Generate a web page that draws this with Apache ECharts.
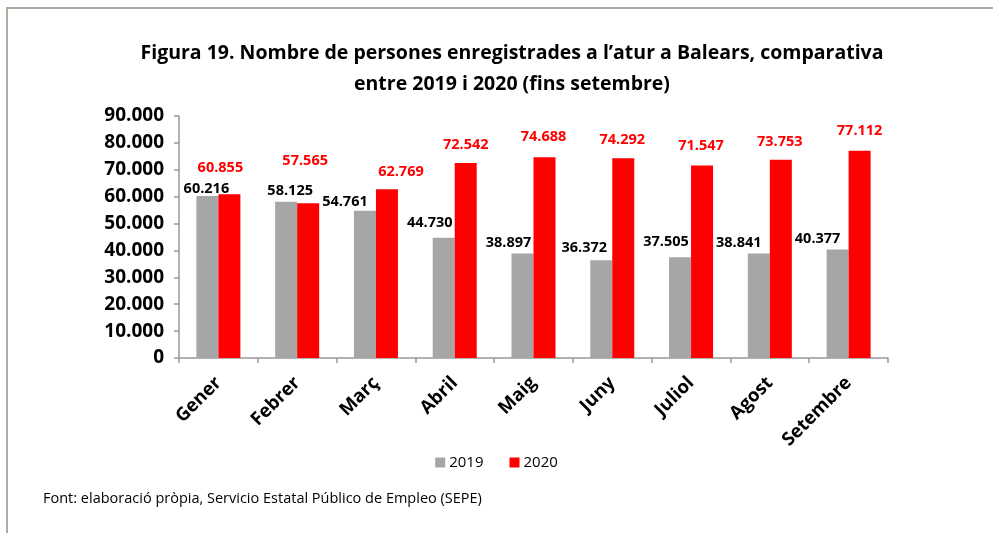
<!DOCTYPE html>
<html>
<head>
<meta charset="utf-8">
<script src="https://cdn.jsdelivr.net/npm/echarts@6/dist/echarts.min.js"></script>
<style>
  html, body { margin: 0; padding: 0; background: #fff; }
  #frame {
    position: absolute; left: 6px; top: 7px; right: 0; bottom: 0;
    border-top: 2px solid #b3aaa2; border-left: 2px solid #b3aaa2;
  }
  #chart { position: absolute; left: 0; top: 0; width: 993px; height: 533px; }
</style>
</head>
<body>
<div id="frame"></div>
<div id="chart"></div>
<script>
const months = ['Gener', 'Febrer', 'Març', 'Abril', 'Maig', 'Juny', 'Juliol', 'Agost', 'Setembre'];
const values2019 = [60216, 58125, 54761, 44730, 38897, 36372, 37505, 38841, 40377];
const values2020 = [60855, 57565, 62769, 72542, 74688, 74292, 71547, 73753, 77112];

const titleText = 'Figura 19. Nombre de persones enregistrades a l’atur a Balears, comparativa\nentre 2019 i 2020 (fins setembre)';
const sourceText = 'Font: elaboració pròpia, Servicio Estatal Público de Empleo (SEPE)';

const FONT = '"Open Sans", Lato, sans-serif';

// spanish-style thousands: 60.216
const fmt = v => String(v).replace(/\B(?=(\d{3})+(?!\d))/g, '.');

// hand placed labels like in the excel original (label centre relative to bar top centre)
const nudge2019 = [[-1, -7], [4, -11], [-20, -9], [-14, -15], [-14, -11], [-17, -12], [-14, -15], [-20, -11], [-20, -11]];
const nudge2020 = [[-9, -26], [-3, -42], [14, -17], [0, -18], [-1, -20], [-1, -18], [-1, -20], [-1, -18], [0, -20]];

const withLabels = (vals, nudge) => vals.map((v, i) => ({
  value: v,
  label: { offset: nudge[i] }
}));

const chart = echarts.init(document.getElementById('chart'));

chart.setOption({
  animation: false,
  backgroundColor: 'transparent',
  title: [
    {
      text: titleText,
      left: 507,
      textAlign: 'center',
      top: 33,
      textStyle: { fontFamily: FONT, fontSize: 19.5, fontWeight: 'bold', color: '#000', lineHeight: 31 }
    },
    {
      text: sourceText,
      left: 38,
      top: 486,
      textStyle: { fontFamily: FONT, fontSize: 14.5, fontWeight: 'normal', color: '#000' }
    }
  ],
  legend: {
    top: 450,
    left: 'center',
    itemWidth: 10,
    itemHeight: 10,
    itemGap: 26,
    icon: 'rect',
    textStyle: { fontFamily: FONT, fontSize: 15, color: '#000', padding: [0, 0, 0, -1] },
    data: ['2019', '2020']
  },
  grid: { left: 179, right: 105, top: 116, bottom: 175 },
  xAxis: {
    type: 'category',
    data: months,
    axisLine: { lineStyle: { color: '#999', width: 1.5 } },
    axisTick: { show: true, length: 5, lineStyle: { color: '#999', width: 1.5 } },
    axisLabel: {
      rotate: 45,
      margin: 22,
      interval: 0,
      fontFamily: FONT,
      fontSize: 18.5,
      fontWeight: 'bold',
      color: '#000'
    }
  },
  yAxis: {
    type: 'value',
    min: 0,
    max: 90000,
    interval: 10000,
    splitLine: { show: false },
    axisLine: { show: true, lineStyle: { color: '#999', width: 1.5 } },
    axisTick: { show: true, length: 5, lineStyle: { color: '#999', width: 1.5 } },
    axisLabel: {
      margin: 15,
      fontFamily: FONT,
      fontSize: 19,
      fontWeight: 'bold',
      color: '#000',
      formatter: fmt
    }
  },
  series: [
    {
      name: '2019',
      type: 'bar',
      barWidth: 22,
      barGap: 0,
      itemStyle: { color: '#a6a6a6' },
      label: {
        show: true,
        position: 'top',
        distance: 0,
        verticalAlign: 'middle',
        fontFamily: FONT,
        fontSize: 14.5,
        fontWeight: 'bold',
        color: '#000',
        formatter: p => fmt(p.value)
      },
      data: withLabels(values2019, nudge2019)
    },
    {
      name: '2020',
      type: 'bar',
      barWidth: 22,
      barGap: 0,
      itemStyle: { color: '#ff0000' },
      label: {
        show: true,
        position: 'top',
        distance: 0,
        verticalAlign: 'middle',
        fontFamily: FONT,
        fontSize: 14.5,
        fontWeight: 'bold',
        color: '#ff0000',
        formatter: p => fmt(p.value)
      },
      data: withLabels(values2020, nudge2020)
    }
  ]
});
</script>
</body>
</html>
